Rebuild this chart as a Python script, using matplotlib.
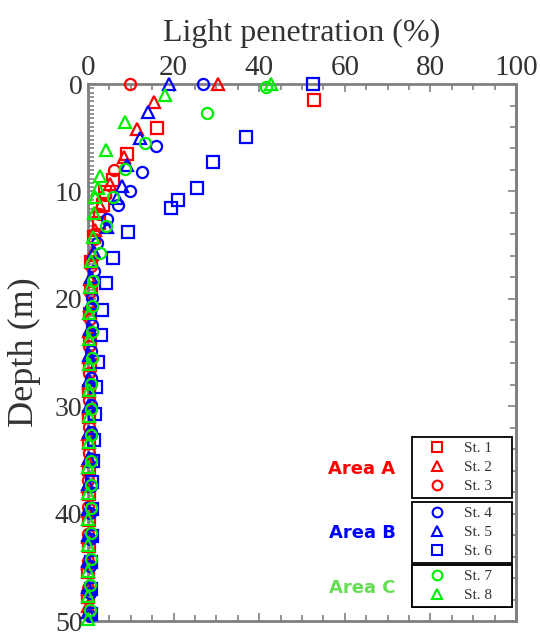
import numpy as np
import matplotlib
matplotlib.use('Agg')
import matplotlib.pyplot as plt
from matplotlib.ticker import MultipleLocator
from matplotlib.lines import Line2D

plt.rcParams['font.family'] = ['Liberation Serif', 'DejaVu Serif']

# Light penetration (%) vs depth (m) for each station
st1_z = [1.5, 4.1, 6.5, 8.9, 10.1, 11.3, 12.9, 14.2, 16.6, 19.0, 21.4, 23.8, 26.2, 28.6, 31.0, 33.4, 35.8, 38.2, 40.6, 43.0, 45.4, 47.8]
st1_v = [52.9, 16.0, 9.0, 5.9, 4.0, 3.4, 2.6, 1.4, 0.8, 0.6, 0.5, 0.4, 0.4, 0.3, 0.3, 0.3, 0.2, 0.2, 0.2, 0.2, 0.1, 0.1]

st2_z = [0, 1.7, 4.2, 6.8, 9.3, 11.4, 13.6, 15.8, 18.2, 20.6, 23.0, 25.4, 27.8, 30.2, 32.6, 35.0, 37.4, 39.8, 42.2, 44.6, 47.0, 48.6]
st2_v = [30.4, 15.4, 11.4, 8.3, 5.2, 2.8, 1.6, 0.9, 0.5, 0.4, 0.3, 0.2, 0.2, 0.2, 0.1, 0.1, 0.1, 0.1, 0.05, 0.05, 0.05, 0.05]

st3_z = [0, 8.0, 10.3, 12.1, 14.4, 16.9, 19.4, 21.9, 24.4, 26.9, 29.4, 31.9, 34.4, 36.9, 39.4, 41.9, 44.4, 46.9]
st3_v = [9.8, 6.0, 3.9, 2.6, 1.3, 0.7, 0.5, 0.4, 0.3, 0.3, 0.2, 0.2, 0.2, 0.1, 0.1, 0.1, 0.1, 0.1]

st4_z = [0, 5.8, 8.2, 10.0, 11.3, 12.6, 14.8, 17.4, 19.9, 22.4, 24.9, 27.4, 29.9, 32.4, 34.9, 37.4, 39.9, 42.4, 44.9, 47.4, 49.5]
st4_v = [26.9, 15.9, 12.5, 9.7, 7.1, 4.4, 2.0, 1.3, 1.0, 0.9, 0.8, 0.8, 0.7, 0.7, 0.6, 0.6, 0.5, 0.5, 0.5, 0.4, 0.4]

st5_z = [0, 2.6, 5.0, 7.5, 9.5, 10.6, 13.3, 15.6, 18.0, 20.4, 22.8, 25.2, 27.6, 30.0, 32.4, 34.8, 37.2, 39.6, 42.0, 44.4, 46.8, 49.2]
st5_v = [19.0, 14.1, 12.1, 9.0, 7.9, 6.7, 4.4, 1.5, 0.8, 0.6, 0.4, 0.3, 0.3, 0.2, 0.2, 0.2, 0.1, 0.1, 0.1, 0.1, 0.1, 0.1]

st6_z = [0, 4.9, 7.3, 9.7, 10.8, 11.5, 13.8, 16.2, 18.5, 21.0, 23.4, 25.9, 28.2, 30.7, 33.1, 35.1, 37.1, 39.6, 42.1, 44.5, 47.0, 49.3]
st6_v = [52.6, 36.8, 29.1, 25.4, 21.1, 19.5, 9.4, 5.8, 4.3, 3.2, 3.0, 2.3, 1.8, 1.6, 1.3, 1.2, 1.0, 1.0, 0.9, 0.8, 0.7, 0.6]

st7_z = [0.3, 2.7, 5.5, 7.9, 10.5, 13.2, 15.7, 18.3, 20.7, 23.1, 25.5, 27.9, 30.3, 32.7, 35.1, 37.3, 39.5, 41.8, 44.2, 46.6, 49.0]
st7_v = [41.7, 27.7, 13.3, 8.7, 5.9, 4.2, 2.8, 1.2, 1.0, 0.9, 0.9, 0.8, 0.8, 0.7, 0.7, 0.7, 0.6, 0.6, 0.6, 0.5, 0.5]

st8_z = [0, 1.0, 3.5, 6.1, 8.6, 9.7, 10.5, 12.0, 14.2, 16.5, 18.9, 21.3, 23.7, 26.1, 28.5, 30.9, 33.3, 35.7, 38.1, 40.5, 42.9, 45.3, 47.7, 49.8]
st8_v = [42.7, 18.0, 8.6, 4.2, 2.8, 2.4, 1.6, 1.3, 1.2, 0.6, 0.4, 0.3, 0.3, 0.2, 0.2, 0.2, 0.2, 0.1, 0.1, 0.1, 0.1, 0.1, 0.1, 0.1]

stations = ['St. 1', 'St. 2', 'St. 3', 'St. 4', 'St. 5', 'St. 6', 'St. 7', 'St. 8']
depths = [st1_z, st2_z, st3_z, st4_z, st5_z, st6_z, st7_z, st8_z]
values = [st1_v, st2_v, st3_v, st4_v, st5_v, st6_v, st7_v, st8_v]
markers = ['s', '^', 'o', 'o', '^', 's', 'o', '^']
colors = ['#ff0000'] * 3 + ['#0000ff'] * 3 + ['#00ee00'] * 2

areas = ['Area A', 'Area B', 'Area C']
area_colors = ['#ff0000', '#0000ff', '#66dd55']
area_groups = [[0, 1, 2], [3, 4, 5], [6, 7]]

axis_gray = '#808080'

fig = plt.figure(figsize=(5.4, 6.38), dpi=100)
ax = fig.add_axes([0.163, 0.0266, 0.7926, 0.8417])

for z, v, m, c in zip(depths, values, markers, colors):
    ax.plot(v, z, linestyle='none', marker=m, markersize=8, markerfacecolor='none',
            markeredgecolor=c, markeredgewidth=1.6, clip_on=False, zorder=3)

ax.set_xlim(0, 100)
ax.set_ylim(50, 0)

# x axis on top
ax.xaxis.set_major_locator(MultipleLocator(20))
ax.xaxis.set_minor_locator(MultipleLocator(5))
ax.tick_params(axis='x', which='both', top=True, bottom=True, labeltop=True, labelbottom=False,
               direction='in', color=axis_gray, width=1.2)
ax.tick_params(axis='x', which='major', length=6, labelsize=21, labelcolor='#333333', pad=2)
ax.tick_params(axis='x', which='minor', length=4)
ax.xaxis.set_label_position('top')
ax.set_xlabel('Light penetration (%)', fontsize=23, color='#333333', labelpad=10)

# y axis: dense ticks left, 2 m ticks right
ax.yaxis.set_major_locator(MultipleLocator(10))
ax.yaxis.set_minor_locator(MultipleLocator(0.4))
ax.tick_params(axis='y', which='both', left=True, right=False, direction='in', color=axis_gray, width=1.2)
ax.tick_params(axis='y', which='major', length=6, labelsize=20, labelcolor='#333333', pad=4)
ax.tick_params(axis='y', which='minor', length=4)
ax.set_ylabel('Depth (m)', fontsize=26, color='#333333', labelpad=10)

sec = ax.secondary_yaxis('right')
sec.yaxis.set_major_locator(MultipleLocator(10))
sec.yaxis.set_minor_locator(MultipleLocator(2))
sec.tick_params(which='both', direction='in', color=axis_gray, width=1.2, labelright=False)
sec.tick_params(which='major', length=6)
sec.tick_params(which='minor', length=4)
sec.spines['right'].set_color(axis_gray)
sec.spines['right'].set_linewidth(2)

for s in ax.spines.values():
    s.set_color(axis_gray)
    s.set_linewidth(2)

# grouped legends, one box per area
anchors = [(0.9907, 0.3426), (0.9907, 0.2216), (0.9907, 0.1043)]
label_y = [0.283, 0.164, 0.061]
for grp, anchor, name, acol, ly in zip(area_groups, anchors, areas, area_colors, label_y):
    handles = [Line2D([], [], linestyle='none', marker=markers[i], markersize=7,
                      markerfacecolor='none', markeredgecolor=colors[i], markeredgewidth=1.5)
               for i in grp]
    leg = ax.legend(handles, [stations[i] + '    ' for i in grp], loc='upper right',
                    bbox_to_anchor=anchor, borderaxespad=0, fancybox=False, framealpha=1,
                    edgecolor='black', prop={'family': 'Liberation Serif', 'size': 11},
                    labelcolor='#333333', handlelength=2.67, handletextpad=0.43,
                    labelspacing=0.35, borderpad=0.3, numpoints=1)
    leg.get_frame().set_linewidth(1.3)
    ax.add_artist(leg)
    ax.text(0.64, ly, name, transform=ax.transAxes, ha='center', va='center',
            fontsize=13, fontweight='bold', color=acol, family='DejaVu Sans')

fig.savefig('out.png', dpi=100)
